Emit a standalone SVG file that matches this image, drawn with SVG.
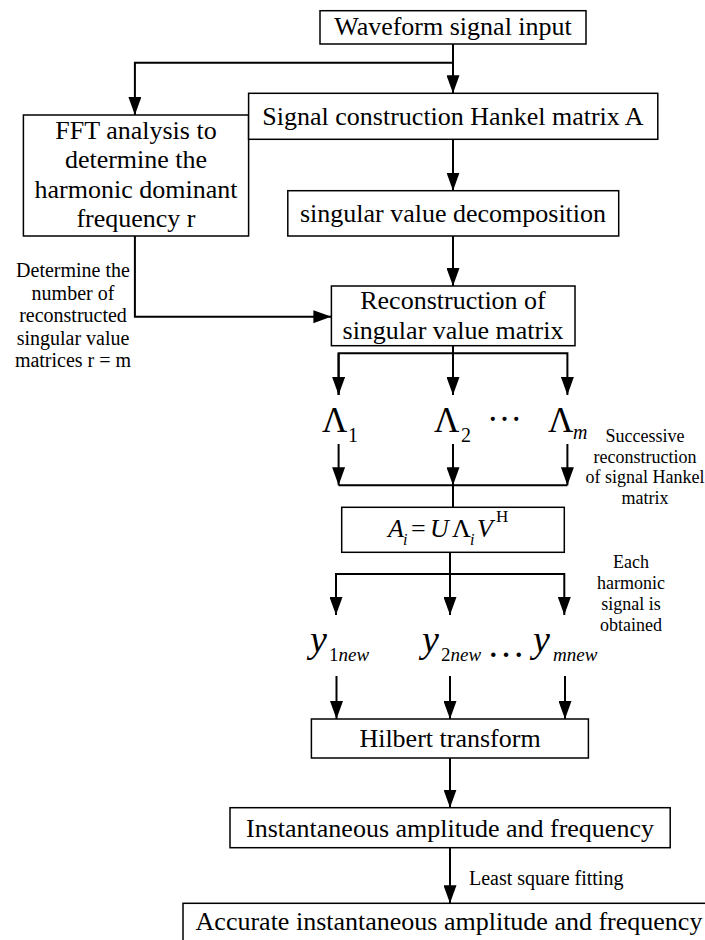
<svg xmlns="http://www.w3.org/2000/svg" width="705" height="940" viewBox="0 0 705 940">
<style>
text{font-family:"Liberation Serif","Times New Roman",serif;fill:#000}
.box{fill:#fff;stroke:#000;stroke-width:1.5}
.t{font-size:26px;text-anchor:middle}
.lbl{font-size:20px;text-anchor:middle}
.lbs{font-size:18px;text-anchor:middle}
.c{fill:none;stroke:#000;stroke-width:2}
.it{font-style:italic}
.big{font-size:35px}
.sub{font-size:20px}
</style>
<defs>
<marker id="ah" markerUnits="userSpaceOnUse" markerWidth="18" markerHeight="13" refX="18" refY="6.5" orient="auto">
<path d="M0,0 L18,6.5 L0,13 z" fill="#000"/>
</marker>
</defs>

<g id="connectors">
<path class="c" d="M453,44 V93.3" marker-end="url(#ah)"/>
<path class="c" d="M453,62.7 H134.9 V115" marker-end="url(#ah)"/>
<path class="c" d="M453,139.3 V190.7" marker-end="url(#ah)"/>
<path class="c" d="M453,236 V286" marker-end="url(#ah)"/>
<path class="c" d="M134.9,236 V316.7 H331.4" marker-end="url(#ah)"/>
<path class="c" d="M453,345.7 V395" marker-end="url(#ah)"/>
<path class="c" d="M338.6,395 V353.3 H567.4 V395" marker-end="url(#ah)"/>
<path class="c" d="M338.6,353.3 V395" marker-end="url(#ah)"/>
<path class="c" d="M338.6,444 V485.3" marker-end="url(#ah)"/>
<path class="c" d="M453,444 V485.3" marker-end="url(#ah)"/>
<path class="c" d="M567.4,444 V485.3" marker-end="url(#ah)"/>
<path class="c" d="M338.6,485.3 H567.4 M453,485.3 V507.3"/>
<path class="c" d="M450,552.3 V615" marker-end="url(#ah)"/>
<path class="c" d="M336,615 V574 H564.3 V615" marker-end="url(#ah)"/>
<path class="c" d="M336,574 V615" marker-end="url(#ah)"/>
<path class="c" d="M336.5,676 V719" marker-end="url(#ah)"/>
<path class="c" d="M450,676 V719" marker-end="url(#ah)"/>
<path class="c" d="M565,676 V719" marker-end="url(#ah)"/>
<path class="c" d="M450,758 V807.7" marker-end="url(#ah)"/>
<path class="c" d="M450,847.7 V903.3" marker-end="url(#ah)"/>
</g>

<g id="waveform">
<rect class="box" x="320" y="10.7" width="266" height="33.3"/>
<text class="t" x="453" y="34.5">Waveform signal input</text>
</g>

<g id="fft">
<rect class="box" x="23.4" y="115" width="225.2" height="121"/>
<text class="t" x="136" y="138.5">FFT analysis to</text>
<text class="t" x="136" y="168">determine the</text>
<text class="t" x="136" y="197.5">harmonic dominant</text>
<text class="t" x="136" y="227">frequency r</text>
</g>

<g id="hankel">
<rect class="box" x="248.6" y="93.3" width="409.2" height="46"/>
<text class="t" x="453" y="125">Signal construction Hankel matrix A</text>
</g>

<g id="svd">
<rect class="box" x="287.8" y="190.7" width="330.9" height="45.3"/>
<text class="t" x="453" y="222">singular value decomposition</text>
</g>

<g id="label-number">
<text class="lbl" x="73" y="277">Determine the</text>
<text class="lbl" x="73" y="299.5">number of</text>
<text class="lbl" x="73" y="322">reconstructed</text>
<text class="lbl" x="73" y="344.5">singular value</text>
<text class="lbl" x="73" y="367">matrices r = m</text>
</g>

<g id="reconstruction">
<rect class="box" x="331.4" y="286" width="243.6" height="59.7"/>
<text class="t" x="453" y="308.5">Reconstruction of</text>
<text class="t" x="453" y="338.5">singular value matrix</text>
</g>

<g id="lambda1">
<text class="big" x="322" y="432">Λ</text>
<text class="sub" x="348" y="442">1</text>
</g>
<g id="lambda2">
<text class="big" x="434" y="432">Λ</text>
<text class="sub" x="461" y="442">2</text>
<text class="big" x="487" y="421">…</text>
</g>
<g id="lambdam">
<text class="big" x="548" y="432">Λ</text>
<text class="sub it" x="573" y="439">m</text>
</g>

<g id="label-successive">
<text class="lbs" x="645" y="442">Successive</text>
<text class="lbs" x="645" y="463">reconstruction</text>
<text class="lbs" x="645" y="483">of signal Hankel</text>
<text class="lbs" x="645" y="504">matrix</text>
</g>

<g id="ai">
<rect class="box" x="341.7" y="507.3" width="222.6" height="45"/>
<text class="it" font-size="26" x="388" y="537">A</text>
<text class="it" font-size="16" x="403" y="545">i</text>
<text font-size="26" x="411" y="537">=</text>
<text class="it" font-size="26" x="430" y="537">U</text>
<text font-size="26" x="452" y="537">Λ</text>
<text class="it" font-size="16" x="470" y="545">i</text>
<text class="it" font-size="26" x="477" y="537">V</text>
<text font-size="17" x="496" y="522">H</text>
</g>

<g id="label-each">
<text class="lbs" x="631" y="568">Each</text>
<text class="lbs" x="631" y="589">harmonic</text>
<text class="lbs" x="631" y="610">signal is</text>
<text class="lbs" x="631" y="631">obtained</text>
</g>

<g id="y1">
<text class="it" font-size="38" x="310" y="652">y</text>
<text font-size="19" x="329" y="661">1<tspan class="it">new</tspan></text>
</g>
<g id="y2">
<text class="it" font-size="38" x="422" y="652">y</text>
<text font-size="19" x="441" y="661">2<tspan class="it">new</tspan></text>
<text font-size="38" x="487" y="657">…</text>
</g>
<g id="ym">
<text class="it" font-size="38" x="533" y="652">y</text>
<text class="it" font-size="19" x="553" y="661">mnew</text>
</g>

<g id="hilbert">
<rect class="box" x="311.4" y="719" width="277" height="39"/>
<text class="t" x="450" y="747">Hilbert transform</text>
</g>

<g id="instantaneous">
<rect class="box" x="230" y="807.7" width="440.2" height="40"/>
<text class="t" x="450" y="836.7">Instantaneous amplitude and frequency</text>
</g>

<g id="label-lsf">
<text font-size="20" x="469" y="885">Least square fitting</text>
</g>

<g id="accurate">
<rect class="box" x="183" y="903.3" width="540" height="50"/>
<text class="t" x="449" y="930">Accurate instantaneous amplitude and frequency</text>
</g>
</svg>
